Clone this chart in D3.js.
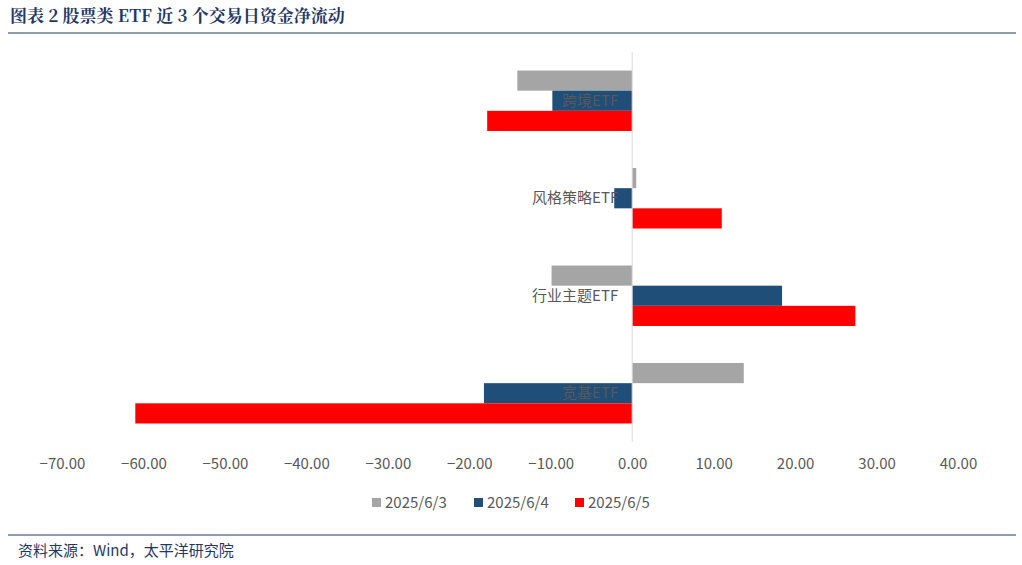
<!DOCTYPE html>
<html><head><meta charset="utf-8">
<script src="https://cdn.jsdelivr.net/npm/d3@7/dist/d3.min.js"></script>
<style>body{margin:0;background:#fff}</style></head>
<body><svg id="c" width="1022" height="565"></svg>
<script>
const categories = ["跨境ETF","风格策略ETF","行业主题ETF","宽基ETF"];
const seriesNames = ["2025/6/3","2025/6/4","2025/6/5"];
const s0603 = [-14.1, 0.5, -9.9, 13.7];
const s0604 = [-9.8, -2.2, 18.4, -18.2];
const s0605 = [-17.8, 11.0, 27.4, -61.0];
const tickValues = [-70,-60,-50,-40,-30,-20,-10,0,10,20,30,40];
const colors = ["#A5A5A5","#1F4E79","#FF0000"];
const series = [s0603,s0604,s0605];

const svg = d3.select("#c");
const font = "'Noto Sans CJK SC', 'Noto Sans', sans-serif";
svg.append("text").attr("x",10).attr("y",22).text("图表 2 股票类 ETF 近 3 个交易日资金净流动")
  .attr("font-family","'Noto Serif CJK SC','Noto Sans CJK SC',serif").attr("font-weight","bold")
  .attr("font-size",17).attr("fill","#1F3864");
svg.append("line").attr("x1",8).attr("x2",1016).attr("y1",33).attr("y2",33).attr("stroke","#1F3864").attr("stroke-width",1);
svg.append("line").attr("x1",8).attr("x2",1016).attr("y1",535).attr("y2",535).attr("stroke","#1F3864").attr("stroke-width",1);
svg.append("text").attr("x",18).attr("y",556).text("资料来源：Wind，太平洋研究院")
  .attr("font-family",font).attr("font-size",15).attr("fill","#1F3864");

const x = d3.scaleLinear().domain([-70,40]).range([62,958]);
const y = d3.scaleBand().domain(categories).range([52,442]).paddingInner(0.38).paddingOuter(0.19);
const sub = d3.scaleBand().domain(d3.range(3)).range([0,y.bandwidth()]);

const g = svg.append("g");
series.forEach((arr,si)=>{
  g.selectAll(null).data(arr).enter().append("rect")
   .attr("x",d=>x(Math.min(0,d))).attr("width",d=>Math.abs(x(d)-x(0)))
   .attr("y",(d,i)=>y(categories[i])+sub(si)).attr("height",sub.bandwidth())
   .attr("fill",colors[si]);
});
svg.append("line").attr("x1",x(0)).attr("x2",x(0)).attr("y1",52).attr("y2",442).attr("stroke","#D9D9D9");
categories.forEach(c=>{
  svg.append("text").attr("x",x(0)-14).attr("y",y(c)+y.bandwidth()/2+5).attr("text-anchor","end")
   .text(c).attr("font-family",font).attr("font-size",15).attr("fill","#595959");
});
const ax = svg.append("g").attr("transform","translate(0,442)")
  .call(d3.axisBottom(x).tickValues(tickValues).tickFormat(d3.format(".2f")).tickSize(0).tickPadding(16));
ax.select(".domain").remove();
ax.selectAll("text").attr("font-family",font).attr("font-size",15).attr("fill","#595959");

const lx=[372,474,575];
seriesNames.forEach((n,i)=>{
  svg.append("rect").attr("x",lx[i]).attr("y",498).attr("width",9).attr("height",9).attr("fill",colors[i]);
  svg.append("text").attr("x",lx[i]+13).attr("y",508).text(n).attr("font-family",font).attr("font-size",15).attr("fill","#595959");
});
</script></body></html>
